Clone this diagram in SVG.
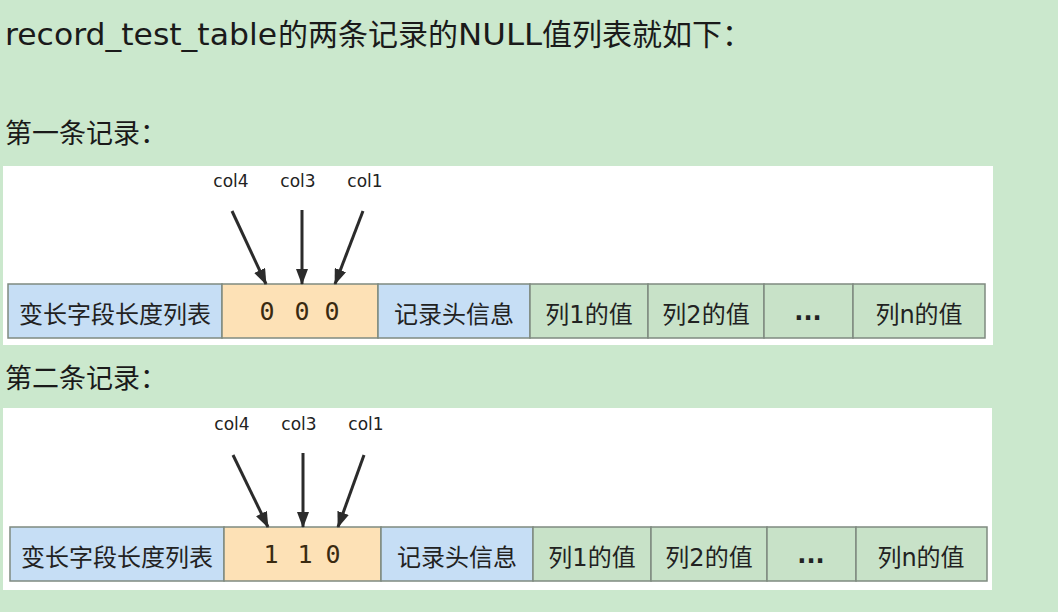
<svg xmlns="http://www.w3.org/2000/svg" width="1058" height="612" viewBox="0 0 1058 612">
<defs>
<marker id="ah" viewBox="0 0 16 12" refX="15" refY="6" markerWidth="16" markerHeight="12" markerUnits="userSpaceOnUse" orient="auto">
<path d="M0,0 L16,6 L0,12 Z" fill="#2b2b2b"/>
</marker>
<style>
.t{font-family:"DejaVu Sans","Noto Sans CJK SC",sans-serif;fill:#1a1a1a}
.h{font-size:30px}
.s{font-size:27px}
.lb{font-size:24px;text-anchor:middle;fill:#222}
.cl{font-size:17px;text-anchor:middle;fill:#222}
.dt{font-weight:bold}
.dg{font-family:"DejaVu Sans Mono",monospace;font-size:25px;text-anchor:middle;fill:#3a2a10}
.box{stroke:#7f8a80;stroke-width:1.5}
.b{fill:#c6def5}
.o{fill:#fde1b6}
.g{fill:#c8e2c8}
.ar{stroke:#2b2b2b;stroke-width:3;fill:none;marker-end:url(#ah)}
</style>
</defs>
<rect width="1058" height="612" fill="#cbe8cd"/>
<text class="t h" y="45"><tspan x="5" textLength="272" lengthAdjust="spacingAndGlyphs">record_test_table</tspan><tspan x="278">的两条记录的</tspan><tspan x="458" textLength="84" lengthAdjust="spacingAndGlyphs">NULL</tspan><tspan x="542">值列表就如下：</tspan></text>
<text class="t s" x="5" y="143">第一条记录：</text>
<text class="t s" x="5" y="388">第二条记录：</text>
<rect x="3" y="166" width="990" height="179" fill="#ffffff"/>
<rect x="3" y="408" width="989" height="182" fill="#ffffff"/>

<g id="record1">
<g id="r1-varlen"><rect class="box b" x="8" y="284" width="214" height="54"/><text class="t lb" x="115" y="323">变长字段长度列表</text></g>
<g id="r1-null"><rect class="box o" x="222" y="284" width="156" height="54"/><text class="dg" y="320"><tspan x="267">0</tspan><tspan x="302">0</tspan><tspan x="332">0</tspan></text></g>
<g id="r1-header"><rect class="box b" x="378" y="284" width="152" height="54"/><text class="t lb" x="454" y="323">记录头信息</text></g>
<g id="r1-c1"><rect class="box g" x="530" y="284" width="118" height="54"/><text class="t lb" x="589" y="323">列1的值</text></g>
<g id="r1-c2"><rect class="box g" x="648" y="284" width="116" height="54"/><text class="t lb" x="706" y="323">列2的值</text></g>
<g id="r1-dots"><rect class="box g" x="764" y="284" width="89" height="54"/><text class="t lb dt" x="808" y="320">...</text></g>
<g id="r1-cn"><rect class="box g" x="853" y="284" width="132" height="54"/><text class="t lb" x="919" y="323">列n的值</text></g>
<g id="r1-labels"><text class="t cl" x="231" y="187">col4</text><text class="t cl" x="298" y="187">col3</text><text class="t cl" x="365" y="187">col1</text></g>
</g>

<g id="record2">
<g id="r2-varlen"><rect class="box b" x="10" y="527" width="214" height="54"/><text class="t lb" x="117" y="566">变长字段长度列表</text></g>
<g id="r2-null"><rect class="box o" x="224" y="527" width="157" height="54"/><text class="dg" y="563"><tspan x="271">1</tspan><tspan x="305">1</tspan><tspan x="333">0</tspan></text></g>
<g id="r2-header"><rect class="box b" x="381" y="527" width="152" height="54"/><text class="t lb" x="457" y="566">记录头信息</text></g>
<g id="r2-c1"><rect class="box g" x="533" y="527" width="118" height="54"/><text class="t lb" x="592" y="566">列1的值</text></g>
<g id="r2-c2"><rect class="box g" x="651" y="527" width="116" height="54"/><text class="t lb" x="709" y="566">列2的值</text></g>
<g id="r2-dots"><rect class="box g" x="767" y="527" width="89" height="54"/><text class="t lb dt" x="811" y="563">...</text></g>
<g id="r2-cn"><rect class="box g" x="856" y="527" width="131" height="54"/><text class="t lb" x="921" y="566">列n的值</text></g>
<g id="r2-labels"><text class="t cl" x="232" y="430">col4</text><text class="t cl" x="299" y="430">col3</text><text class="t cl" x="366" y="430">col1</text></g>
</g>

<g id="connectors">
<line class="ar" x1="232" y1="211" x2="266" y2="284"/>
<line class="ar" x1="302" y1="210" x2="302" y2="284"/>
<line class="ar" x1="363" y1="211" x2="335" y2="284"/>
<line class="ar" x1="233" y1="455" x2="268" y2="527"/>
<line class="ar" x1="303" y1="453" x2="303" y2="527"/>
<line class="ar" x1="364" y1="455" x2="338" y2="527"/>
</g>
</svg>
